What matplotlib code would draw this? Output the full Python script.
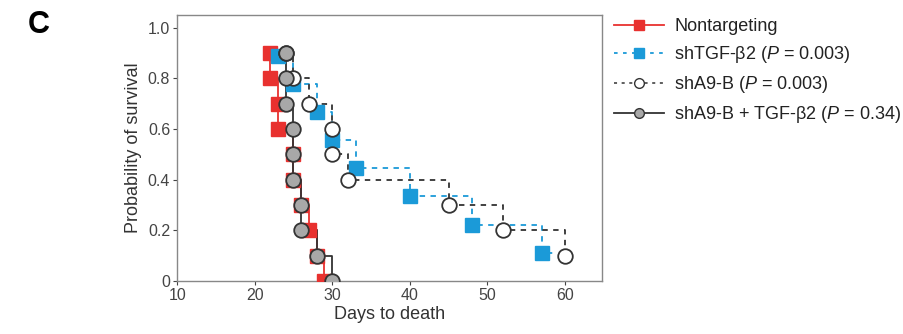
import numpy as np
import matplotlib
matplotlib.use("Agg")
import matplotlib.pyplot as plt
from matplotlib.lines import Line2D

plt.rcParams['font.family'] = ['Liberation Sans', 'DejaVu Sans']
plt.rcParams['mathtext.fontset'] = 'custom'
plt.rcParams['mathtext.rm'] = 'Liberation Sans'
plt.rcParams['mathtext.it'] = 'Liberation Sans:italic'

# days of death (x) and survival after each event (y)
nt_days = [22, 22, 23, 23, 25, 25, 26, 27, 28, 29]
nt_surv = [0.9, 0.8, 0.7, 0.6, 0.5, 0.4, 0.3, 0.2, 0.1, 0.0]

tgf_days = [23, 25, 28, 30, 33, 40, 48, 57, 59]
tgf_surv = [8/9, 7/9, 6/9, 5/9, 4/9, 3/9, 2/9, 1/9, 1/9]

a9_days = [24, 25, 27, 30, 30, 32, 45, 52, 60]
a9_surv = [0.9, 0.8, 0.7, 0.6, 0.5, 0.4, 0.3, 0.2, 0.1]

a9tgf_days = [24, 24, 24, 25, 25, 25, 26, 26, 28, 30]
a9tgf_surv = [0.9, 0.8, 0.7, 0.6, 0.5, 0.4, 0.3, 0.2, 0.1, 0.0]

labels = ['Nontargeting', 'shTGF-β2 ($P$ = 0.003)', 'shA9-B ($P$ = 0.003)',
          'shA9-B + TGF-β2 ($P$ = 0.34)']

red = '#e8312f'
blue = '#1b9ad8'
dark = '#333333'
grey = '#a8a8a8'

fig = plt.figure(figsize=(9.04, 3.34), dpi=100)
ax = fig.add_axes([0.196, 0.159, 0.47, 0.796])

# step lines
ax.plot(nt_days, nt_surv, drawstyle='steps-post', color=red, lw=1.3, zorder=2)
ax.plot(tgf_days, tgf_surv, drawstyle='steps-post', color=blue, lw=1.3,
        ls=(0, (3, 3)), zorder=2)
ax.plot(a9_days, a9_surv, drawstyle='steps-post', color=dark, lw=1.3,
        ls=(0, (3, 3)), zorder=2)
ax.plot(a9tgf_days, a9tgf_surv, drawstyle='steps-post', color=dark, lw=1.3, zorder=3)

# markers
ax.plot(nt_days, nt_surv, 's', ms=9.5, color=red, mec=red, zorder=4)
ax.plot(tgf_days[:-1], tgf_surv[:-1], 's', ms=9.5, color=blue, mec=blue, zorder=4)
ax.plot(a9_days, a9_surv, 'o', ms=10.5, mfc='white', mec=dark, mew=1.3, zorder=5)
ax.plot(a9tgf_days, a9tgf_surv, 'o', ms=10.5, mfc=grey, mec=dark, mew=1.3, zorder=6)

ax.set_xlim(10, 64.8)
ax.set_ylim(0, 1.05)
ax.set_xticks([10, 20, 30, 40, 50, 60])
ax.set_yticks([0, 0.2, 0.4, 0.6, 0.8, 1.0])
ax.set_yticklabels(['0', '0.2', '0.4', '0.6', '0.8', '1.0'])
ax.tick_params(labelsize=11.5, colors='#444444', length=3, width=0.8, pad=2)
for sp in ax.spines.values():
    sp.set_color('#888888')
    sp.set_linewidth(1.0)
ax.set_xlabel('Days to death', fontsize=13, color='#333333', labelpad=2)
ax.set_ylabel('Probability of survival', fontsize=13, color='#333333', labelpad=4)

handles = [
    Line2D([], [], color=red, lw=1.3, marker='s', ms=7.5, mec=red),
    Line2D([], [], color=blue, lw=1.3, ls=(0, (2, 3)), marker='s', ms=7.5, mec=blue),
    Line2D([], [], color=dark, lw=1.1, ls=(0, (2, 3)), marker='o', ms=7,
           mfc='white', mec=dark),
    Line2D([], [], color=dark, lw=1.3, marker='o', ms=7, mfc=grey, mec=dark),
]
fig.legend(handles, labels, loc='upper left', bbox_to_anchor=(0.661, 0.995),
           frameon=False, fontsize=13, handlelength=2.8, handletextpad=0.55,
           labelspacing=0.5, labelcolor='#222222')

fig.text(0.031, 0.925, 'C', fontsize=22, fontweight='bold', va='center')

fig.savefig('out.png', dpi=100)
